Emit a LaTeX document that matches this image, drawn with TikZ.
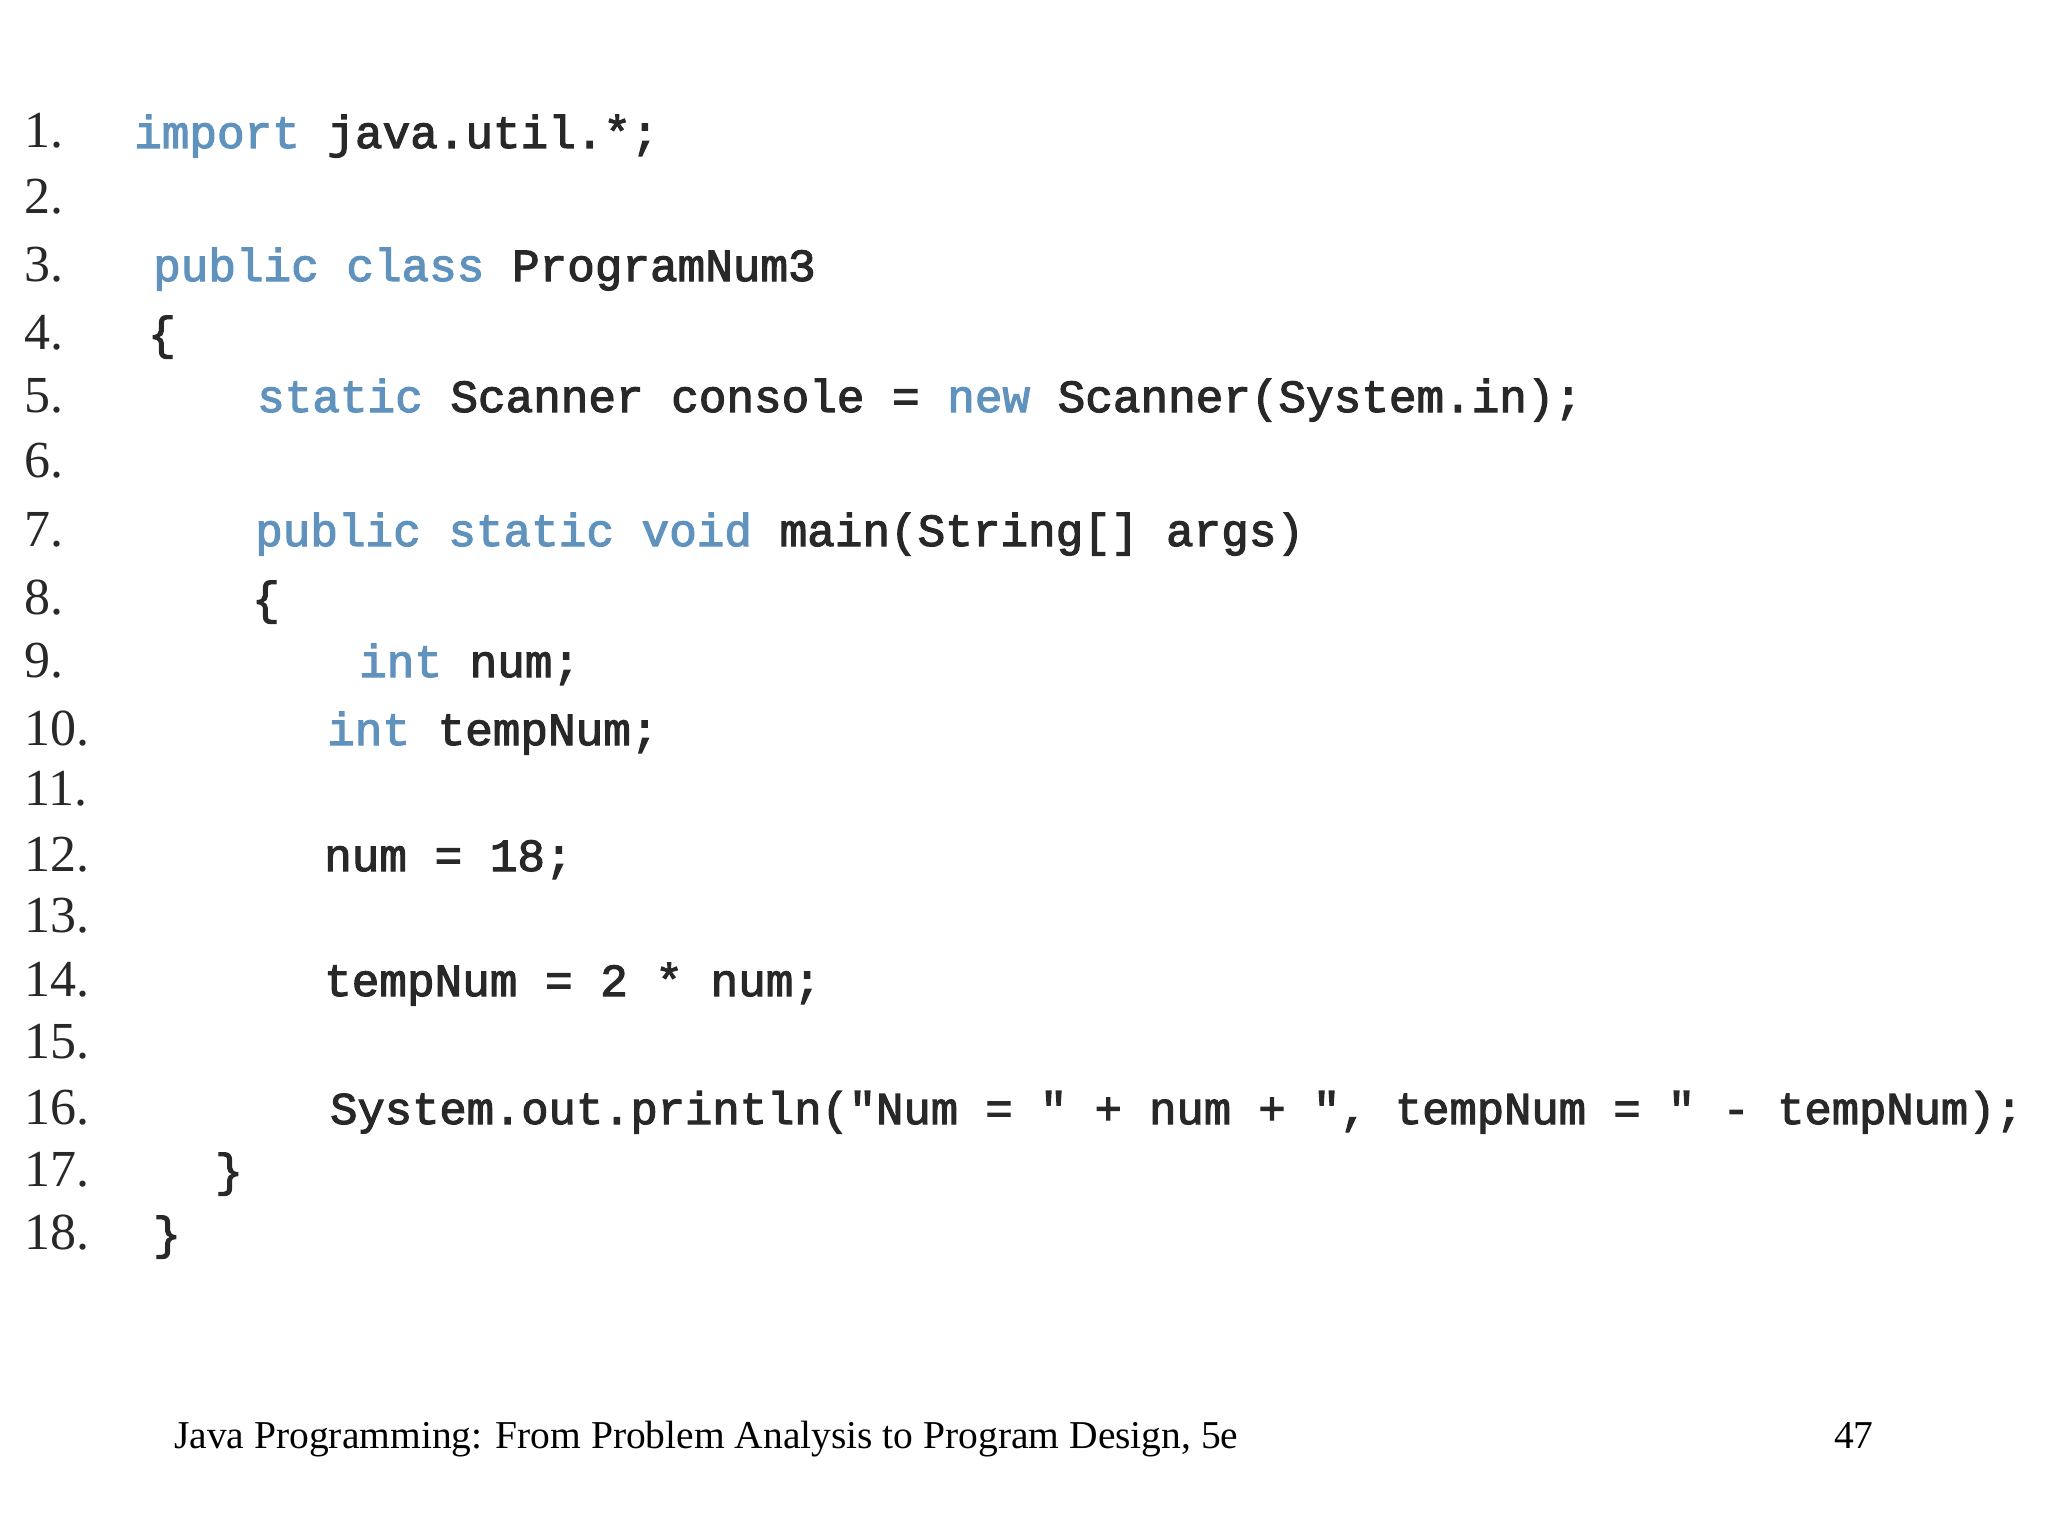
\documentclass[tikz,border=0pt]{standalone}
\usepackage{fontspec}
\setmainfont{Liberation Serif}
\newfontfamily\codefont{Liberation Mono}[FakeBold=2.5]
\definecolor{kw}{RGB}{96,146,190}
\definecolor{ink}{RGB}{40,40,40}
\begin{document}
\begin{tikzpicture}[x=1pt,y=-1pt,
  num/.style={anchor=base west,inner sep=0,font=\fontsize{52}{52}\selectfont,text=ink},
  code/.style={anchor=base west,inner sep=0,font=\codefont\fontsize{46}{46}\selectfont,text=ink},
  foot/.style={anchor=base west,inner sep=0,font=\fontsize{39.5}{39.5}\selectfont,text=black}]
\useasboundingbox (0,0) rectangle (2048,1536);
\newcommand\kwd[1]{\textcolor{kw}{#1}}
\foreach \n/\y in {1/148,2/213,3/281,4/349,5/412,6/477,7/546,8/614,9/677,10/745,11/805,12/871,13/932,14/996,15/1058,16/1124,17/1186,18/1249}
  \node[num] (n\n) at (24,\y) {\n.};
\node[code] (c1) at (134,148) {\kwd{import} java.util.*;};
\node[code] (c3) at (153,281) {\kwd{public class} ProgramNum3};
\node[code] (c4) at (148,349) {\{};
\node[code] (c5) at (257,412) {\kwd{static} Scanner console = \kwd{new} Scanner(System.in);};
\node[code] (c7) at (255,546) {\kwd{public static void} main(String[] args)};
\node[code] (c8) at (252,614) {\{};
\node[code] (c9) at (359,677) {\kwd{int} num;};
\node[code] (c10) at (327,745) {\kwd{int} tempNum;};
\node[code] (c12) at (324,871) {num = 18;};
\node[code] (c14) at (324,996) {tempNum = 2 * num;};
\node[code,font=\codefont\fontsize{45.5}{45.5}\selectfont] (c16) at (330,1124) {System.out.println("Num = " + num + ", tempNum = " - tempNum);};
\node[code] (c17) at (215,1186) {\}};
\node[code] (c18) at (153,1249) {\}};
\node[foot] (f1) at (174,1448) {Java Programming: From Problem Analysis to Program Design, 5e};
\node[foot] (f2) at (1834,1448) {47};
\end{tikzpicture}
\end{document}
